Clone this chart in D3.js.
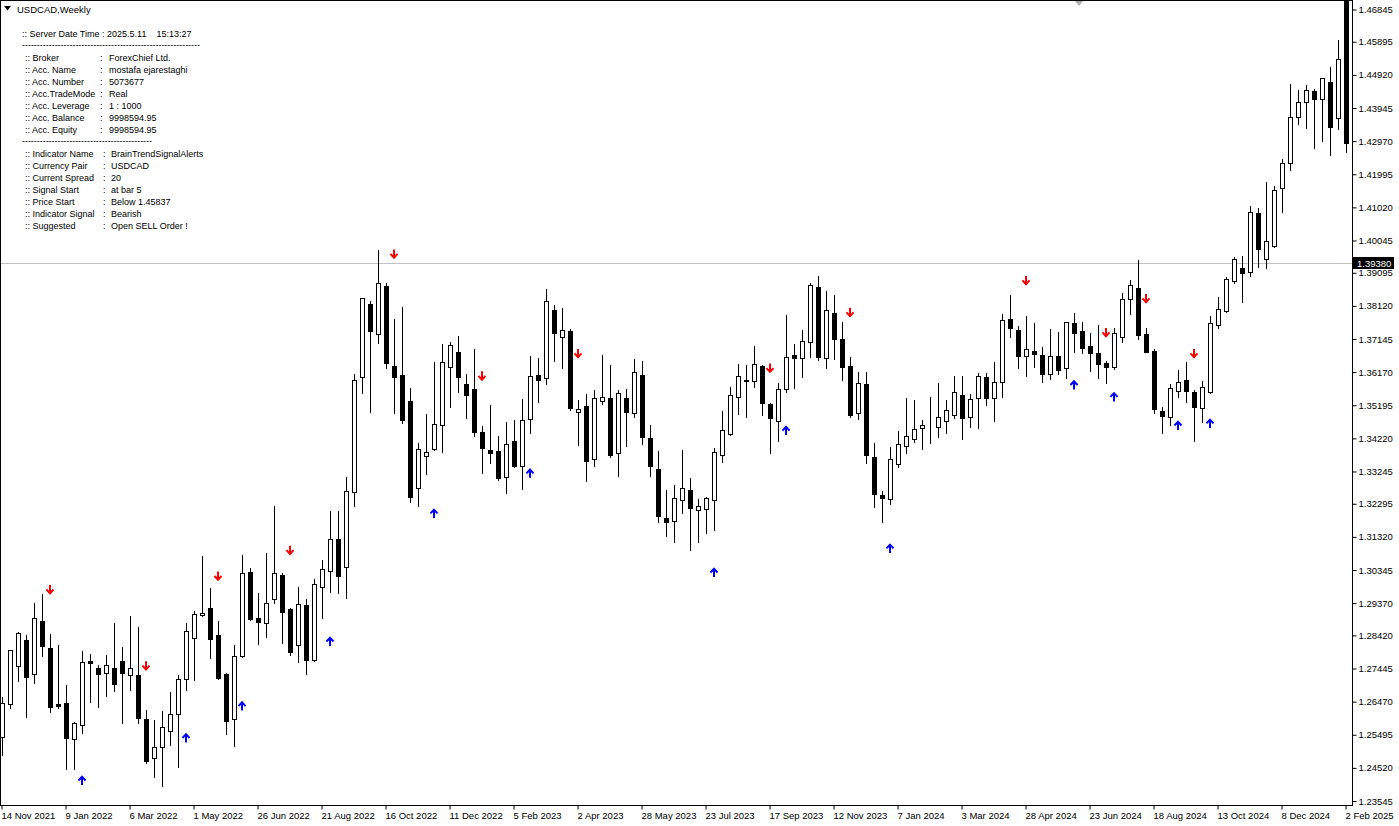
<!DOCTYPE html>
<html><head><meta charset="utf-8">
<script src="https://cdn.jsdelivr.net/npm/d3@7"></script>
<style>
body{margin:0;background:#fff;overflow:hidden}
svg{display:block}
text{font-family:"Liberation Sans",Arial,sans-serif;fill:#000}
</style>
</head><body>
<svg id="c" width="1399" height="826"></svg>
<script>
// ---------------- data ----------------
const symbolTitle = "USDCAD,Weekly";
const firstBarDate = "2021-11-14";   // weekly bars, one per week
const opens = [1.2542,1.2639,1.2753,1.2828,1.2727,1.2884,1.2805,1.2639,1.2643,1.2536,1.2577,1.2767,1.2745,1.2730,1.2745,1.2766,1.2725,1.2725,1.2595,1.2480,1.2513,1.2561,1.2610,1.2715,1.2835,1.2901,1.2922,1.2842,1.2728,1.2596,1.2782,1.3029,1.2893,1.2878,1.2950,1.3020,1.2920,1.2813,1.2931,1.2770,1.2985,1.3031,1.3126,1.3044,1.3263,1.3602,1.3818,1.3728,1.3871,1.3635,1.3609,1.3532,1.3275,1.3370,1.3392,1.3460,1.3631,1.3676,1.3582,1.3567,1.3440,1.3388,1.3385,1.3309,1.3414,1.3342,1.3478,1.3609,1.3601,1.3800,1.3721,1.3738,1.3499,1.3517,1.3360,1.3531,1.3540,1.3378,1.3540,1.3496,1.3608,1.3423,1.3331,1.3187,1.3179,1.3241,1.3270,1.3211,1.3213,1.3241,1.3372,1.3434,1.3543,1.3594,1.3590,1.3635,1.3522,1.3473,1.3566,1.3667,1.3658,1.3705,1.3867,1.3658,1.3790,1.3714,1.3635,1.3496,1.3582,1.3366,1.3254,1.3243,1.3346,1.3400,1.3419,1.3452,1.3458,1.3456,1.3474,1.3491,1.3550,1.3484,1.3540,1.3602,1.3540,1.3589,1.3773,1.3741,1.3664,1.3679,1.3667,1.3611,1.3664,1.3628,1.3763,1.3739,1.3694,1.3672,1.3643,1.3633,1.3720,1.3831,1.3864,1.3728,1.3679,1.3503,1.3486,1.3562,1.3594,1.3558,1.3511,1.3559,1.3756,1.3798,1.3885,1.3923,1.3911,1.4086,1.3949,1.3988,1.4158,1.4232,1.4367,1.4411,1.4445,1.4420,1.4472,1.4364,1.4750];
const highs = [1.2662,1.2800,1.2853,1.2843,1.2938,1.2964,1.2846,1.2814,1.2696,1.2588,1.2796,1.2787,1.2755,1.2784,1.2879,1.2807,1.2899,1.2868,1.2622,1.2593,1.2619,1.2674,1.2725,1.2878,1.2914,1.3076,1.2981,1.2885,1.2730,1.2814,1.3079,1.3040,1.2966,1.3084,1.3223,1.3025,1.2922,1.2984,1.2949,1.3007,1.3064,1.3208,1.3208,1.3307,1.3611,1.3836,1.3826,1.3977,1.3880,1.3773,1.3808,1.3569,1.3409,1.3494,1.3648,1.3699,1.3707,1.3723,1.3611,1.3684,1.3458,1.3520,1.3429,1.3471,1.3476,1.3538,1.3664,1.3658,1.3861,1.3815,1.3805,1.3743,1.3535,1.3553,1.3564,1.3667,1.3638,1.3564,1.3566,1.3655,1.3650,1.3461,1.3386,1.3270,1.3285,1.3388,1.3304,1.3243,1.3250,1.3393,1.3503,1.3574,1.3641,1.3638,1.3694,1.3638,1.3527,1.3584,1.3785,1.3700,1.3741,1.3878,1.3900,1.3856,1.3844,1.3764,1.3661,1.3618,1.3616,1.3407,1.3267,1.3397,1.3444,1.3542,1.3535,1.3476,1.3545,1.3584,1.3535,1.3606,1.3606,1.3553,1.3614,1.3615,1.3648,1.3788,1.3844,1.3753,1.3782,1.3763,1.3690,1.3744,1.3736,1.3766,1.3792,1.3765,1.3731,1.3756,1.3650,1.3746,1.3849,1.3888,1.3947,1.3746,1.3684,1.3513,1.3582,1.3623,1.3646,1.3564,1.3591,1.3782,1.3837,1.3896,1.3957,1.3959,1.4106,1.4099,1.4178,1.4165,1.4244,1.4465,1.4448,1.4462,1.4450,1.4484,1.4516,1.4595,1.4793];
const lows = [1.2490,1.2627,1.2709,1.2603,1.2703,1.2782,1.2617,1.2627,1.2449,1.2448,1.2554,1.2647,1.2632,1.2664,1.2679,1.2585,1.2681,1.2585,1.2465,1.2426,1.2399,1.2518,1.2455,1.2681,1.2711,1.2900,1.2775,1.2715,1.2551,1.2516,1.2779,1.2887,1.2817,1.2836,1.2936,1.2820,1.2785,1.2765,1.2727,1.2768,1.2892,1.2971,1.2966,1.2953,1.3224,1.3556,1.3501,1.3702,1.3628,1.3496,1.3468,1.3236,1.3224,1.3316,1.3388,1.3383,1.3515,1.3559,1.3483,1.3430,1.3319,1.3349,1.3299,1.3260,1.3339,1.3272,1.3439,1.3530,1.3581,1.3651,1.3628,1.3506,1.3402,1.3297,1.3341,1.3523,1.3368,1.3312,1.3400,1.3484,1.3405,1.3312,1.3177,1.3135,1.3116,1.3201,1.3093,1.3118,1.3144,1.3152,1.3353,1.3432,1.3494,1.3486,1.3574,1.3491,1.3378,1.3415,1.3559,1.3569,1.3604,1.3661,1.3653,1.3628,1.3655,1.3594,1.3486,1.3479,1.3349,1.3219,1.3175,1.3228,1.3339,1.3380,1.3412,1.3390,1.3409,1.3427,1.3439,1.3483,1.3419,1.3456,1.3453,1.3520,1.3473,1.3545,1.3721,1.3630,1.3606,1.3631,1.3587,1.3596,1.3611,1.3601,1.3677,1.3672,1.3621,1.3601,1.3586,1.3625,1.3705,1.3787,1.3715,1.3675,1.3498,1.3439,1.3461,1.3545,1.3530,1.3415,1.3471,1.3557,1.3746,1.3795,1.3878,1.3823,1.3900,1.3927,1.3924,1.3986,1.4089,1.4212,1.4347,1.4337,1.4278,1.4297,1.4256,1.4332,1.4266];
const closes = [1.2642,1.2798,1.2849,1.2720,1.2892,1.2812,1.2632,1.2635,1.2541,1.2583,1.2763,1.2760,1.2729,1.2754,1.2698,1.2732,1.2745,1.2600,1.2473,1.2513,1.2571,1.2610,1.2713,1.2855,1.2904,1.2907,1.2830,1.2717,1.2591,1.2781,1.3025,1.2890,1.2882,1.2936,1.3025,1.2912,1.2793,1.2934,1.2770,1.2992,1.3038,1.3125,1.3017,1.3267,1.3593,1.3834,1.3739,1.3878,1.3643,1.3604,1.3476,1.3250,1.3390,1.3381,1.3464,1.3646,1.3696,1.3604,1.3551,1.3442,1.3393,1.3378,1.3306,1.3405,1.3342,1.3476,1.3606,1.3594,1.3826,1.3733,1.3740,1.3512,1.3508,1.3356,1.3540,1.3543,1.3373,1.3555,1.3499,1.3616,1.3427,1.3340,1.3194,1.3177,1.3246,1.3275,1.3216,1.3223,1.3246,1.3381,1.3446,1.3549,1.3605,1.3590,1.3640,1.3525,1.3481,1.3566,1.3661,1.3658,1.3710,1.3873,1.3662,1.3799,1.3714,1.3631,1.3491,1.3586,1.3373,1.3257,1.3247,1.3360,1.3405,1.3429,1.3449,1.3461,1.3458,1.3486,1.3506,1.3558,1.3481,1.3537,1.3606,1.3540,1.3587,1.3770,1.3746,1.3665,1.3684,1.3669,1.3611,1.3664,1.3622,1.3765,1.3731,1.3689,1.3674,1.3640,1.3633,1.3731,1.3831,1.3873,1.3726,1.3677,1.3508,1.3489,1.3569,1.3587,1.3562,1.3515,1.3572,1.3761,1.3802,1.3890,1.3949,1.3908,1.4089,1.3979,1.4003,1.4153,1.4232,1.4367,1.4411,1.4448,1.4420,1.4482,1.4339,1.4538,1.4292];

// BrainTrend signal arrows: bar index + price where arrow is drawn
const sellBars   = [6,18,27,36,49,60,72,96,106,128,138,143,149];
const sellPrices = [1.2977,1.2753,1.3017,1.3093,1.3965,1.3606,1.3672,1.3629,1.3793,1.3887,1.3734,1.3834,1.3672];
const buyBars    = [10,23,30,41,54,66,89,98,111,134,139,147,151];
const buyPrices  = [1.2415,1.2540,1.2634,1.2824,1.3201,1.3319,1.3027,1.3445,1.3098,1.3579,1.3544,1.3460,1.3466];

const priceTicks = ["1.46845","1.45895","1.44920","1.43945","1.42970","1.41995","1.41020","1.40045","1.39095","1.38120","1.37145","1.36170","1.35195","1.34220","1.33245","1.32295","1.31320","1.30345","1.29370","1.28420","1.27445","1.26470","1.25495","1.24520","1.23545"];
const timeTickBars = [0,8,16,24,32,40,48,56,64,72,80,88,96,104,112,120,128,136,144,152,160,168];
const timeTickLabels = ["14 Nov 2021","9 Jan 2022","6 Mar 2022","1 May 2022","26 Jun 2022","21 Aug 2022","16 Oct 2022","11 Dec 2022","5 Feb 2023","2 Apr 2023","28 May 2023","23 Jul 2023","17 Sep 2023","12 Nov 2023","7 Jan 2024","3 Mar 2024","28 Apr 2024","23 Jun 2024","18 Aug 2024","13 Oct 2024","8 Dec 2024","2 Feb 2025"];
const currentPrice = 1.39380;

const infoHeader = [":: Server Date Time : 2025.5.11    15:13:27"];
const infoKeys1 = [":: Broker",":: Acc. Name",":: Acc. Number",":: Acc.TradeMode",":: Acc. Leverage",":: Acc. Balance",":: Acc. Equity"];
const infoVals1 = ["ForexChief Ltd.","mostafa ejarestaghi","5073677","Real","1 : 1000","9998594.95","9998594.95"];
const infoKeys2 = [":: Indicator Name",":: Currency Pair",":: Current Spread",":: Signal Start",":: Price Start",":: Indicator Signal",":: Suggested"];
const infoVals2 = ["BrainTrendSignalAlerts","USDCAD","20","at bar 5","Below 1.45837","Bearish","Open SELL Order !"];

// ---------------- layout ----------------
const plot = {left: 1, right: 1352, top: 1, bottom: 805};
const svg = d3.select("#c");

const start = new Date(firstBarDate + "T00:00:00");
const dates = opens.map((_, i) => d3.timeWeek.offset(start, i));
const fmt = d3.timeFormat("%Y-%m-%d");
const keys = dates.map(fmt);
const bars = opens.map((o, i) => ({i, key: keys[i], o, h: highs[i], l: lows[i], c: closes[i]}));

const x = d3.scalePoint().domain(keys).range([2.5, 1346.5]);
const y = d3.scaleLinear().domain([1.23545, 1.46845]).range([801, 9.5]);

svg.append("defs").append("clipPath").attr("id", "plotclip")
  .append("rect").attr("x", plot.left).attr("y", plot.top)
  .attr("width", plot.right - plot.left).attr("height", plot.bottom - plot.top);

// current price line
const cpY = Math.round(y(currentPrice)) + 0.5;
svg.append("line")
  .attr("x1", plot.left).attr("x2", plot.right)
  .attr("y1", cpY).attr("y2", cpY)
  .attr("stroke", "#c0c0c0").attr("stroke-width", 1);

const g = svg.append("g").attr("clip-path", "url(#plotclip)");

// wicks
g.selectAll("line.wick").data(bars).join("line").attr("class", "wick")
  .attr("x1", d => x(d.key)).attr("x2", d => x(d.key))
  .attr("y1", d => Math.round(y(d.h))).attr("y2", d => Math.round(y(d.l)) + 1)
  .attr("stroke", "#000").attr("stroke-width", 1);

// bodies
g.selectAll("rect.body").data(bars).join("rect").attr("class", "body")
  .attr("x", d => x(d.key) - 2)
  .attr("y", d => Math.round(y(Math.max(d.o, d.c))) + 0.5)
  .attr("width", 4)
  .attr("height", d => Math.max(0, Math.round(y(Math.min(d.o, d.c))) - Math.round(y(Math.max(d.o, d.c)))))
  .attr("fill", d => d.c > d.o ? "#fff" : "#000")
  .attr("stroke", "#000").attr("stroke-width", 1)
  .attr("shape-rendering", "crispEdges");

// arrows
function downArrow(cx, cy) {
  return `M${cx},${cy - 4.5}L${cx},${cy + 3.5}M${cx - 3.5},${cy}L${cx},${cy + 3.8}L${cx + 3.5},${cy}`;
}
function upArrow(cx, cy) {
  return `M${cx},${cy + 4.5}L${cx},${cy - 3.5}M${cx - 3.5},${cy}L${cx},${cy - 3.8}L${cx + 3.5},${cy}`;
}
g.selectAll("path.sell").data(sellBars.map((b, k) => ({b, p: sellPrices[k]}))).join("path")
  .attr("class", "sell")
  .attr("d", d => downArrow(x(keys[d.b]) - 0.5, y(d.p)))
  .attr("fill", "none").attr("stroke", "#ff0000").attr("stroke-width", 2)
  .attr("stroke-linejoin", "miter");
g.selectAll("path.buy").data(buyBars.map((b, k) => ({b, p: buyPrices[k]}))).join("path")
  .attr("class", "buy")
  .attr("d", d => upArrow(x(keys[d.b]) - 0.5, y(d.p)))
  .attr("fill", "none").attr("stroke", "#0000ff").attr("stroke-width", 2)
  .attr("stroke-linejoin", "miter");

// frame
svg.append("rect").attr("x", plot.left - 0.5).attr("y", plot.top - 0.5)
  .attr("width", plot.right - plot.left + 1).attr("height", plot.bottom - plot.top + 1)
  .attr("fill", "none").attr("stroke", "#000").attr("stroke-width", 1)
  .attr("shape-rendering", "crispEdges");

// chart-shift marker
svg.append("path").attr("d", "M1075,1L1083,1L1079,6Z").attr("fill", "#b0b0b0");

// price axis (right)
const yAxis = d3.axisRight(y).tickValues(priceTicks.map(Number))
  .tickFormat((d, i) => priceTicks[i]).tickSize(4).tickPadding(2);
const ya = svg.append("g").attr("transform", `translate(${plot.right + 0.5},0)`).call(yAxis);
ya.select(".domain").remove();
ya.selectAll("line").attr("stroke", "#000");
ya.selectAll("text").style("font-family", '"Liberation Sans",Arial,sans-serif')
  .style("font-size", "9.5px").attr("fill", "#000");

// current price label
svg.append("rect").attr("x", plot.right + 1).attr("y", cpY - 6.5)
  .attr("width", 41).attr("height", 12).attr("fill", "#000");
svg.append("text").attr("x", plot.right + 5).attr("y", cpY + 3.5)
  .style("font-size", "9.5px").style("fill", "#fff").text(currentPrice.toFixed(5));

// time axis (bottom)
const xa = svg.append("g").attr("transform", `translate(0,${plot.bottom + 0.5})`);
xa.selectAll("line").data(timeTickBars).join("line")
  .attr("x1", d => x(keys[d]) - 0.5).attr("x2", d => x(keys[d]) - 0.5)
  .attr("y1", 0).attr("y2", 4).attr("stroke", "#000");
xa.selectAll("text").data(timeTickBars).join("text")
  .attr("x", d => x(keys[d]) - 1).attr("y", 13)
  .style("font-size", "9.5px")
  .text((d, k) => timeTickLabels[k]);

// title
svg.append("path").attr("d", "M4,6L11,6L7.5,10.5Z").attr("fill", "#000");
svg.append("text").attr("x", 17).attr("y", 13).style("font-size", "9.5px").text(symbolTitle);

// info panel
const info = svg.append("g").style("font-size", "9px");
info.append("text").attr("x", 22).attr("y", 37).text(infoHeader[0]).style("white-space", "pre");
info.append("text").attr("x", 22).attr("y", 48).attr("textLength", 178).attr("lengthAdjust", "spacing")
  .text("-".repeat(60));
infoKeys1.forEach((k, i) => {
  const yy = 61 + i * 12;
  info.append("text").attr("x", 25).attr("y", yy).text(k);
  info.append("text").attr("x", 100).attr("y", yy).text(":");
  info.append("text").attr("x", 109).attr("y", yy).text(infoVals1[i]);
});
info.append("text").attr("x", 22).attr("y", 144).attr("textLength", 130).attr("lengthAdjust", "spacing")
  .text("-".repeat(44));
infoKeys2.forEach((k, i) => {
  const yy = 157 + i * 12;
  info.append("text").attr("x", 25).attr("y", yy).text(k);
  info.append("text").attr("x", 103).attr("y", yy).text(":");
  info.append("text").attr("x", 111).attr("y", yy).text(infoVals2[i]);
});
</script>
</body></html>
